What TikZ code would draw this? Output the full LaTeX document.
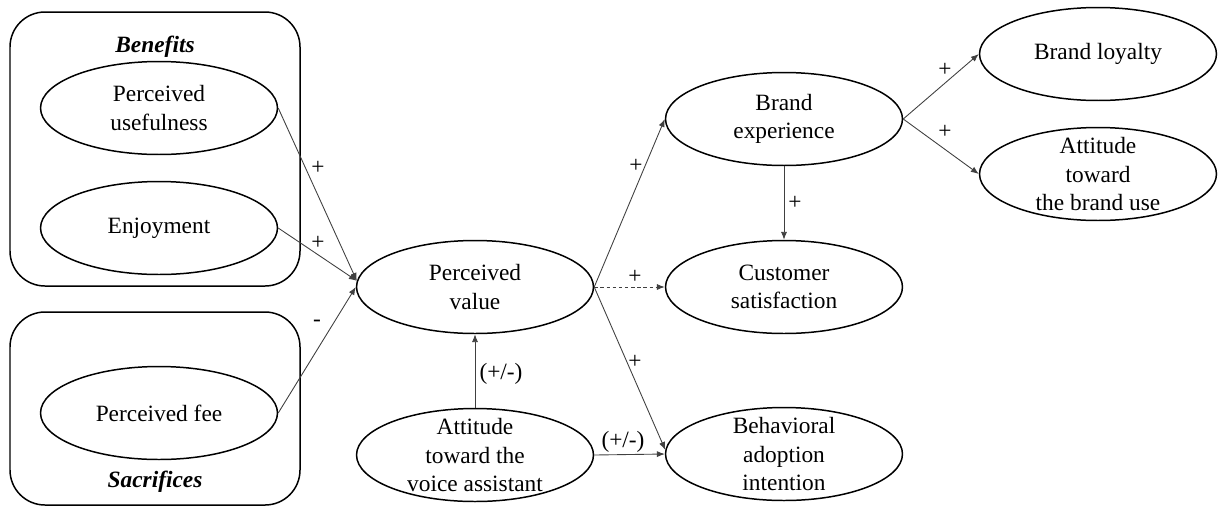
\documentclass[tikz,border=0pt]{standalone}
\usepackage{fontspec}
\IfFontExistsTF{LiberationSerif-Regular.ttf}{%
  \setmainfont{LiberationSerif}[Extension=.ttf,UprightFont=*-Regular,
    BoldFont=*-Bold,ItalicFont=*-Italic,BoldItalicFont=*-BoldItalic]}{}
\usetikzlibrary{shapes.geometric,arrows.meta,calc}
\begin{document}
\begin{tikzpicture}[x=0.02cm,y=-0.02cm,
  construct/.style={ellipse,draw,line width=0.85pt,minimum width=4.74cm,minimum height=1.86cm,inner sep=0pt},
  caption/.style={align=center,font=\fontsize{13.3}{16}\selectfont,inner sep=0pt},
  group/.style={draw,line width=0.85pt,rounded corners=0.7cm},
  link/.style={draw=black!75,line width=0.5pt,-{Latex[length=4.5pt,width=3.5pt]}},
  sign/.style={font=\fontsize{13.3}{16}\selectfont,inner sep=0pt},
  heading/.style={font=\fontsize{13.3}{16}\selectfont\bfseries\itshape,inner sep=0pt}]
\useasboundingbox (0,0) rectangle (1219,508);

% grouping frames
\draw[group] (10,12) rectangle (300,286);
\draw[group] (10,312) rectangle (300,505);
\node[heading] (benefits) at (155,47) {Benefits};
\node[heading] (sacrifices) at (155,482) {Sacrifices};

% constructs
\node[construct] (pu)   at (159,108) {};
\node[construct] (enj)  at (159,228) {};
\node[construct] (fee)  at (159,413) {};
\node[construct] (pv)   at (475,287) {};
\node[construct] (avs)  at (475,455) {};
\node[construct] (be)   at (784,119) {};
\node[construct] (cs)   at (784,287) {};
\node[construct] (bai)  at (784,454) {};
\node[construct] (bl)   at (1098,54) {};
\node[construct] (atbu) at (1098,174) {};

\node[caption] (pu-t)   at (pu)   {Perceived\\usefulness};
\node[caption] (enj-t)  at (enj)  {Enjoyment};
\node[caption] (fee-t)  at (fee)  {Perceived fee};
\node[caption] (pv-t)   at (pv)   {Perceived\\value};
\node[caption] (avs-t)  at (avs)  {Attitude\\toward the\\voice assistant};
\node[caption] (be-t)   at (be)   {Brand\\experience};
\node[caption] (cs-t)   at (cs)   {Customer\\satisfaction};
\node[caption] (bai-t)  at (bai)  {Behavioral\\adoption\\intention};
\node[caption] (bl-t)   at (bl)   {Brand loyalty};
\node[caption] (atbu-t) at (atbu) {Attitude\\toward\\the brand use};

% paths
\draw[link] (pu.east)  -- (pv.177);
\draw[link] (enj.east) -- (pv.177);
\draw[link] (fee.east) -- (pv.west);
\draw[link] (avs.north) -- (pv.south);
\draw[link] (avs.east) -- (bai.west);
\draw[link] (pv.east) -- (be.west);
\draw[link,dash pattern=on 2pt off 1.5pt] (pv.east) -- (cs.west);
\draw[link] (pv.east) -- (bai.178);
\draw[link] (be.south) -- (cs.north);
\draw[link] (be.east) -- (bl.west);
\draw[link] (be.east) -- (atbu.west);

% path signs
\node[sign] (s1)  at (318,168) {+};
\node[sign] (s2)  at (318,243) {+};
\node[sign] (s3)  at (317,323) {-};
\node[sign] (s4)  at (501,374) {(+/-)};
\node[sign] (s5)  at (623,442) {(+/-)};
\node[sign] (s6)  at (636,166) {+};
\node[sign] (s7)  at (635,277) {+};
\node[sign] (s8)  at (635,362) {+};
\node[sign] (s9)  at (795,203) {+};
\node[sign] (s10) at (945,70)  {+};
\node[sign] (s11) at (945,132) {+};
\end{tikzpicture}
\end{document}
